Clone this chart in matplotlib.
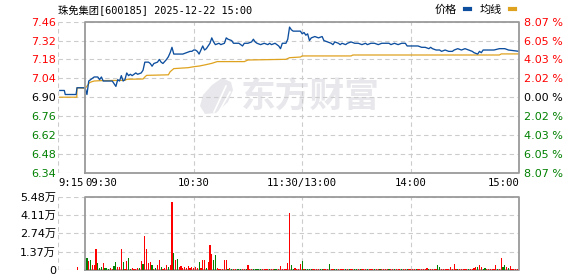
import matplotlib
matplotlib.use("Agg")
import matplotlib.pyplot as plt
from matplotlib.patches import Polygon

# ---- data ----
prev_close = 6.90
title = "珠免集团[600185] 2025-12-22 15:00"

# minute index: 0 = 09:30, 120 = 11:30/13:00, 240 = 15:00, -15 = 09:15
price_t = [-14, -11.5, -11, -5, -4.5, 0,
           1, 2, 3, 5, 7, 8, 9, 10, 12, 15, 16, 17, 18, 19, 20, 21, 22, 23, 24, 25, 26, 28, 29,
           31, 32, 33, 34, 35, 36, 37, 38, 40, 41, 42, 43, 45, 46, 47, 48, 49, 51, 54, 56, 58, 59,
           60, 61, 62, 63, 64, 65, 66, 67, 69, 70, 71, 72, 74, 75, 77, 78, 79, 81, 82, 84, 85, 87,
           88, 90, 92, 93, 94, 95, 97, 99, 101, 102, 103, 105, 107, 108, 109, 111, 112, 113, 114,
           115, 117, 119, 120, 121, 122, 123, 124, 125, 127, 129, 131, 132, 134, 136, 137, 138,
           140, 141, 142, 144, 145, 147, 149, 151, 153, 155, 156, 158, 160, 162, 164, 166, 168,
           169, 171, 173, 175, 177, 178, 180, 182, 184, 186, 188, 190, 191, 192, 194, 196, 197,
           199, 201, 203, 204, 206, 208, 210, 212, 214, 215, 217, 218, 219, 220, 222, 226, 229,
           232, 234, 240]
price_v = [6.95, 6.95, 6.92, 6.92, 6.97, 6.97,
           6.92, 7.02, 7.03, 7.05, 7.05, 7.03, 7.05, 7.02, 7.02, 7.02, 7.00, 6.98, 7.03, 7.02, 7.06,
           7.02, 7.03, 7.08, 7.06, 7.07, 7.06, 7.08, 7.07,
           7.08, 7.10, 7.16, 7.16, 7.16, 7.15, 7.13, 7.15, 7.16, 7.18, 7.16, 7.15, 7.18, 7.20, 7.23,
           7.27, 7.22, 7.22, 7.22, 7.23, 7.24, 7.24,
           7.25, 7.25, 7.24, 7.22, 7.25, 7.28, 7.25, 7.26, 7.30, 7.34, 7.31, 7.29, 7.30, 7.29, 7.30,
           7.34, 7.33, 7.32, 7.30, 7.30, 7.30, 7.28,
           7.30, 7.30, 7.31, 7.33, 7.31, 7.30, 7.29, 7.30, 7.29, 7.30, 7.29, 7.30, 7.28, 7.26, 7.30,
           7.30, 7.33, 7.42, 7.40,
           7.39, 7.39, 7.39, 7.37, 7.38, 7.36, 7.37, 7.32, 7.34, 7.35, 7.34, 7.35, 7.32, 7.31, 7.30,
           7.29, 7.31,
           7.30, 7.29, 7.30, 7.29, 7.30, 7.31, 7.30, 7.30, 7.29, 7.30, 7.29, 7.30, 7.30, 7.29, 7.30,
           7.30, 7.30,
           7.29, 7.30, 7.29, 7.30, 7.30, 7.28, 7.28, 7.28, 7.28, 7.27, 7.27, 7.26, 7.27, 7.26, 7.25,
           7.25, 7.24,
           7.25, 7.24, 7.24, 7.25, 7.26, 7.25, 7.26, 7.25, 7.24, 7.23, 7.22, 7.24, 7.23, 7.25, 7.25,
           7.25, 7.26,
           7.26, 7.25, 7.24]

avg_t = [-14, -4.6, -4.5, 0, 1.5, 2.4, 3.7, 5, 9, 22, 23, 32, 33, 34, 46, 47, 49, 57, 60, 63, 66,
         70, 73, 88, 90, 111, 113, 119, 120, 147, 148, 229, 230, 240]
avg_v = [6.90, 6.90, 6.97, 6.966, 6.99, 7.008, 7.015, 7.02, 7.023, 7.025, 7.033, 7.035, 7.05,
         7.062, 7.066, 7.089, 7.112, 7.119, 7.126, 7.131, 7.139, 7.151, 7.164, 7.164, 7.176,
         7.181, 7.193, 7.198, 7.206, 7.206, 7.213, 7.213, 7.221, 7.221]

# volume in 万 shares, one bar per minute 1..240, plus the 09:25 auction bar
auction_t = -4
auction_vol = 0.22
vol = [0.90, 0.67, 0.75, 0.37, 0.37, 1.57, 0.52, 0.17, 0.25, 0.52,
       0.15, 0.15, 0.10, 0.15, 0.08, 0.30, 0.60, 0.25, 0.25, 1.57,
       0.60, 0.08, 0.67, 0.90, 0.08, 0.15, 0.10, 0.10, 0.15, 0.15,
       0.67, 0.45, 2.54, 1.57, 0.52, 0.60, 0.37, 0.08, 0.17, 0.37,
       0.75, 0.22, 0.08, 0.15, 0.37, 0.22, 0.37, 5.08, 1.27, 0.75,
       0.82, 0.22, 0.30, 0.15, 0.22, 0.15, 0.30, 0.15, 0.22, 0.15,
       0.22, 0.15, 0.60, 0.15, 0.75, 0.75, 0.15, 0.60, 1.87, 1.20,
       0.75, 1.12, 0.15, 0.08, 0.08, 0.08, 0.75, 0.75, 0.08, 0.15,
       0.08, 0.08, 0.08, 0.08, 0.08, 0.08, 0.08, 0.08, 0.08, 0.37,
       0.08, 0.08, 0.08, 0.08, 0.08, 0.08, 0.08, 0.08, 0.08, 0.08,
       0.08, 0.08, 0.08, 0.08, 0.08, 0.08, 0.08, 0.30, 0.08, 0.08,
       0.08, 0.52, 4.26, 0.37, 0.08, 0.15, 0.08, 0.08, 0.45, 0.67,
       0.08, 0.08, 0.08, 0.08, 0.08, 0.08, 0.08, 0.08, 0.08, 0.08,
       0.08, 0.08, 0.08, 0.08, 0.45, 0.08, 0.08, 0.08, 0.08, 0.08,
       0.08, 0.08, 0.08, 0.08, 0.08, 0.08, 0.08, 0.08, 0.08, 0.08,
       0.08, 0.08, 0.08, 0.08, 0.08, 0.08, 0.08, 0.08, 0.08, 0.08,
       0.08, 0.08, 0.08, 0.08, 0.08, 0.08, 0.08, 0.08, 0.08, 0.08,
       0.08, 0.08, 0.08, 0.08, 0.08, 0.08, 0.08, 0.08, 0.08, 0.08,
       0.08, 0.08, 0.08, 0.08, 0.08, 0.08, 0.08, 0.08, 0.15, 0.08,
       0.08, 0.08, 0.08, 0.08, 0.37, 0.20, 0.08, 0.08, 0.08, 0.08,
       0.08, 0.22, 0.08, 0.45, 0.08, 0.08, 0.08, 0.08, 0.08, 0.08,
       0.08, 0.08, 0.08, 0.08, 0.15, 0.20, 0.22, 0.37, 0.22, 0.08,
       0.15, 0.08, 0.08, 0.08, 0.08, 0.08, 0.37, 0.08, 0.08, 0.90,
       0.22, 0.37, 0.22, 0.15, 0.30, 0.08, 0.08, 0.08, 0.08, 1.27]
vol_dir = ("grgrrrgggr" "gggrrggrrr" "grrggrrrrg" "rgrrrrgrgr" "rgrrrgrrgr"
           "grrrrrrrrr" "rrgrrrgrrr" "ggrrrrrrgr" "grrgggrrgr" "rrgggggrrr"
           "rgrrggrrrr" "rrrggrrrrg" "rggggrrrrg" "grrrgrrggr" "rrrgrgrrgg"
           "rgrrrgrrrg" "rrgrrrrgrr" "grrrgrrgrr" "rrgrrrrrrg" "rrrrggrrrr"
           "rrrrrgrrrr" "rgrrrrgrrg" "grrrrrrgrr" "ggrgrrrrrg")

price_ticks = [6.34, 6.48, 6.62, 6.76, 6.90, 7.04, 7.18, 7.32, 7.46]
pct_labels = ["8.07 %", "6.05 %", "4.03 %", "2.02 %", "0.00 %", "2.02 %", "4.03 %", "6.05 %", "8.07 %"]
vol_ticks = [0, 1.37, 2.74, 4.11, 5.48]
vol_labels = ["0", "1.37万", "2.74万", "4.11万", "5.48万"]
time_ticks = [-15, 0, 60, 120, 180, 240]
time_labels = ["9:15", "09:30", "10:30", "11:30/13:00", "14:00", "15:00"]

RED = "#FF0000"
GREEN = "#008000"
BLUE = "#0D4E9E"
ORANGE = "#DFA21E"
GRID = "#CCCCCC"
BORDER = "#9A9A9A"

plt.rcParams["font.family"] = ["DejaVu Sans", "Noto Sans CJK SC"]

W, H = 578, 276
fig = plt.figure(figsize=(W / 100, H / 100), dpi=100)


def px_box(x0, y0, x1, y1):
    return [x0 / W, 1 - y1 / H, (x1 - x0) / W, (y1 - y0) / H]


ax = fig.add_axes(px_box(58, 21.7, 519.3, 172.7))
axv = fig.add_axes(px_box(58, 196.7, 519.3, 270))


def frame(a, lo, hi, ticks):
    a.set_xlim(-15, 240)
    a.set_ylim(lo, hi)
    for s in a.spines.values():
        s.set_visible(False)
    a.hlines(ticks, -15, 240, colors=GRID, linestyles=(0, (4, 3)), lw=0.8, zorder=1)
    a.vlines([-15, 60, 120, 180], lo, hi, colors=GRID, linestyles=(0, (4, 3)), lw=0.8, zorder=1)
    a.plot([0, 0, 240, 240, 0], [lo, hi, hi, lo, lo], color=BORDER, lw=1.3,
           clip_on=False, zorder=6)


frame(ax, price_ticks[0], price_ticks[-1], price_ticks)
frame(axv, 0, vol_ticks[-1], vol_ticks)

# watermark
ax.text(0.548, 0.51, "东方财富", transform=ax.transAxes, fontsize=25, fontweight="bold",
        color="#E8E8EC", ha="center", va="center", zorder=0, family="Noto Sans CJK SC")
leaf = [(222, 78), (231, 82), (233, 90), (228, 102), (216, 113), (205, 114),
        (200, 106), (203, 95), (212, 85)]
ax.add_patch(Polygon([(x / W, 1 - y / H) for x, y in leaf], closed=True,
                     transform=fig.transFigure, facecolor="#E8E8EC", edgecolor="none", zorder=0))
for cut in ([(214, 112), (226, 86)], [(220, 110), (230, 92)]):
    ax.plot([c[0] / W for c in cut], [1 - c[1] / H for c in cut], color="white", lw=1.2,
            transform=fig.transFigure, zorder=0.5)

# price + average lines
l_price, = ax.plot(price_t, price_v, color=BLUE, lw=0.95, zorder=4, label="价格")
l_avg, = ax.plot(avg_t, avg_v, color=ORANGE, lw=0.9, zorder=3, label="均线")

# left price labels
ax.set_yticks(price_ticks)
ax.set_yticklabels(["%.2f" % v for v in price_ticks])
ax.tick_params(axis="y", length=0, pad=1.2, labelsize=8)
for lab, v in zip(ax.get_yticklabels(), price_ticks):
    lab.set_color(RED if v > prev_close else (GREEN if v < prev_close else "black"))

# right percent labels
ax2 = ax.twinx()
ax2.set_ylim(ax.get_ylim())
for s in ax2.spines.values():
    s.set_visible(False)
ax2.set_yticks(price_ticks)
ax2.set_yticklabels(pct_labels)
ax2.tick_params(axis="y", length=0, pad=3.5, labelsize=8)
for lab, v in zip(ax2.get_yticklabels(), price_ticks):
    lab.set_color(RED if v > prev_close else (GREEN if v < prev_close else "black"))

# time labels
ax.set_xticks(time_ticks)
ax.set_xticklabels(time_labels, family="DejaVu Sans Mono", fontsize=7.6)
ax.tick_params(axis="x", length=0, pad=3.5)
xl = ax.get_xticklabels()
xl[0].set_ha("left")
xl[1].set_ha("left")
xl[-1].set_ha("right")

# volume bars (drawn above the frame so the 1px bars stay visible)
bar_t = [auction_t] + list(range(1, len(vol) + 1))
bar_v = [auction_vol] + vol
bar_c = [RED] + [RED if d == "r" else GREEN for d in vol_dir]
axv.bar(bar_t, bar_v, width=0.65, color=bar_c, linewidth=0, zorder=7, antialiased=False)
axv.set_xticks([])
axv.set_yticks(vol_ticks)
axv.set_yticklabels(vol_labels)
axv.tick_params(axis="y", length=0, pad=1.5, labelsize=8)

# title and legend
fig.text(58 / W, 1 - 9.5 / H, title, family=["DejaVu Sans Mono", "Noto Sans CJK SC"],
         fontsize=7.4, ha="left", va="center")
leg = ax.legend(handles=[l_price, l_avg], loc="center right", bbox_to_anchor=(515 / W, 1 - 9.5 / H),
                bbox_transform=fig.transFigure, ncol=2, markerfirst=False, frameon=False,
                handlelength=0.45, handletextpad=0.7, columnspacing=0.9, borderpad=0,
                borderaxespad=0, prop={"family": "Noto Sans CJK SC", "size": 8})
for ln in leg.get_lines():
    ln.set_linewidth(3)

fig.savefig("out.png", dpi=100)
